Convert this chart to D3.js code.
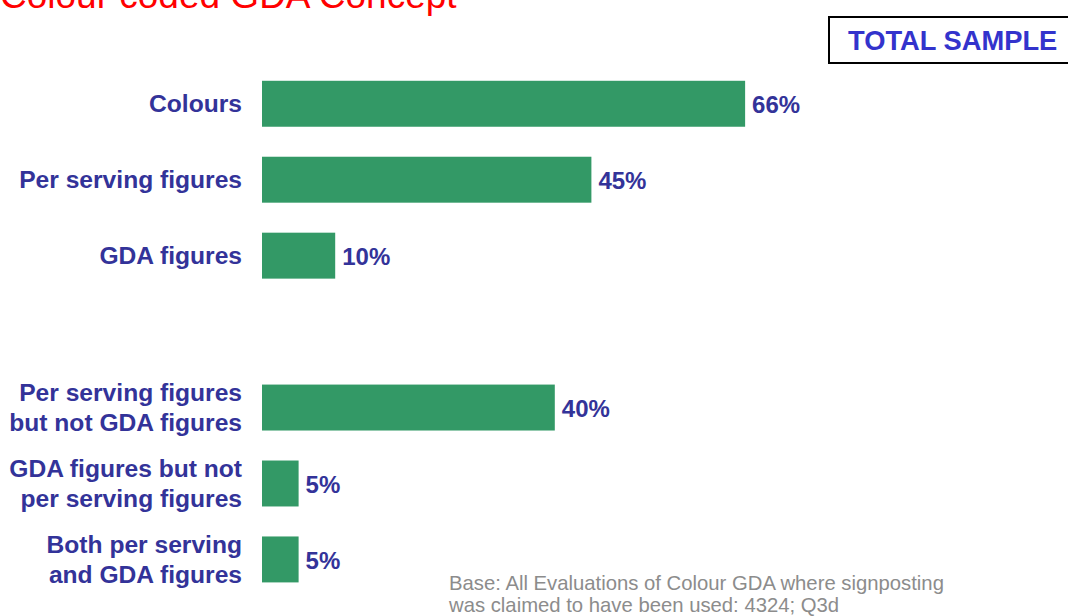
<!DOCTYPE html>
<html>
<head>
<meta charset="utf-8">
<script src="https://cdn.jsdelivr.net/npm/d3@7"></script>
<style>
  html, body { margin: 0; padding: 0; background: #fff; }
  svg { display: block; font-family: "Liberation Sans", Arial, sans-serif; }
</style>
</head>
<body>
<svg id="chart" width="1068" height="616"></svg>
<script>
// Share of respondents citing each element of the signposting (%)
const categories = [
  "Colours",
  "Per serving figures",
  "GDA figures",
  "",
  "Per serving figures|but not GDA figures",
  "GDA figures but not|per serving figures",
  "Both per serving|and GDA figures"
];
const values = [66, 45, 10, null, 40, 5, 5];
const valueLabels = ["66%", "45%", "10%", "", "40%", "5%", "5%"];

const svg = d3.select("#chart");

const x = d3.scaleLinear().domain([0, 100]).range([262, 994]);
const y = d3.scaleBand()
  .domain(categories.map((c, i) => i))
  .range([65.6, 597.6])
  .paddingInner(0.395)
  .paddingOuter(0.2);

// Title (runs off the top edge)
svg.append("text")
  .attr("x", 0).attr("y", 8)
  .attr("fill", "#ff0000")
  .attr("font-size", 37)
  .text("Colour coded GDA Concept");

// Sample tag
svg.append("rect")
  .attr("x", 829).attr("y", 17)
  .attr("width", 250).attr("height", 46)
  .attr("fill", "#fff").attr("stroke", "#000").attr("stroke-width", 2);
svg.append("text")
  .attr("x", 848).attr("y", 50)
  .attr("fill", "#3333cc")
  .attr("font-size", 27.3).attr("font-weight", "bold")
  .text("TOTAL SAMPLE");

const rows = categories.map((c, i) => ({ cat: c, v: values[i], lbl: valueLabels[i], i }))
  .filter(d => d.v !== null);

// Bars
svg.append("g").selectAll("rect").data(rows).join("rect")
  .attr("x", x(0))
  .attr("y", d => y(d.i))
  .attr("width", d => x(d.v) - x(0))
  .attr("height", y.bandwidth())
  .attr("fill", "#339966");

// Value labels
svg.append("g").selectAll("text").data(rows).join("text")
  .attr("x", d => x(d.v) + 7)
  .attr("y", d => y(d.i) + y.bandwidth() / 2 + 1)
  .attr("dy", "0.35em")
  .attr("fill", "#333399")
  .attr("font-size", 24).attr("font-weight", "bold")
  .text(d => d.lbl);

// Category labels (may wrap over two lines)
const lineH = 30;
const cl = svg.append("g").selectAll("text").data(rows).join("text")
  .attr("text-anchor", "end")
  .attr("fill", "#333399")
  .attr("font-size", 24.6).attr("font-weight", "bold");
cl.each(function(d) {
  const lines = d.cat.split("|");
  const cy = y(d.i) + y.bandwidth() / 2;
  const t = d3.select(this);
  lines.forEach((ln, k) => {
    t.append("tspan")
      .attr("x", 242)
      .attr("y", cy + (k - (lines.length - 1) / 2) * lineH)
      .attr("dy", "0.35em")
      .text(ln);
  });
});

// Base note
const note = svg.append("text")
  .attr("fill", "#8c8c8c")
  .attr("font-size", 20.3);
["Base: All Evaluations of Colour GDA where signposting",
 "was claimed to have been used: 4324; Q3d"].forEach((ln, k) => {
  note.append("tspan").attr("x", 449).attr("y", 590 + k * 22).text(ln);
});
</script>
</body>
</html>
